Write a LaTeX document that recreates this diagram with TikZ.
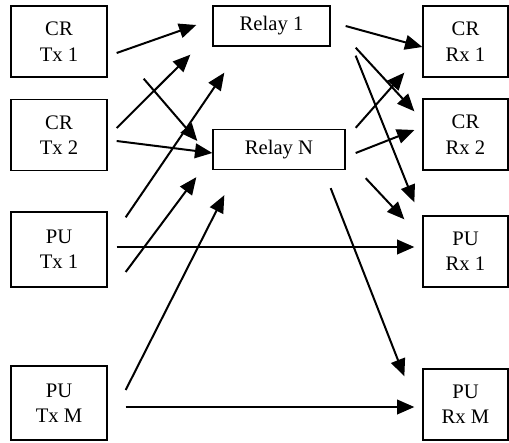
\documentclass[tikz,border=0pt]{standalone}
\usepackage{fontspec}
\setmainfont{Liberation Serif}
\usetikzlibrary{arrows.meta, calc, positioning}

\begin{document}
\begin{tikzpicture}[x=0.75pt, y=-0.75pt, >={Triangle[length=13pt, width=11pt]}, align=center, font=\fontsize{15.5}{19}\selectfont]

	\tikzset{
		unit/.style={draw, line width=1pt, inner sep=0pt, minimum width=72pt, minimum height=53.25pt},
		relay/.style={draw, line width=1pt, inner sep=0pt, minimum height=30pt},
		rx/.style={unit, minimum width=63.75pt},
		link/.style={->, line width=1.5pt}
	}

	\useasboundingbox (0, 0) rectangle (509, 442);

	% transmitters
	\node[unit]		(CRTx1)	at	(59, 41.5)	{CR \\ Tx 1};
	\node[unit]		(CRTx2)	at	(59, 135)	{CR \\ Tx 2};
	\node[unit, minimum height=56.25pt]	(PUTx1)	at	(59, 249.5)	{PU \\ Tx 1};
	\node[unit, minimum height=55.5pt]	(PUTxM)	at	(59, 403)	{PU \\ Tx M};

	% relays
	\node[relay, minimum width=87.75pt]	(R1)	at	(271.5, 26)	{Relay 1};
	\node[relay, minimum width=99pt]	(RN)	at	(279, 149.5)	{Relay N};

	% receivers
	\node[rx]		(CRRx1)	at	(465.5, 41.5)	{CR \\ Rx 1};
	\node[rx]		(CRRx2)	at	(465.5, 134.5)	{CR \\ Rx 2};
	\node[rx]		(PURx1)	at	(465.5, 251.5)	{PU \\ Rx 1};
	\node[rx]		(PURxM)	at	(465.5, 404.5)	{PU \\ Rx M};

	\path[link]	($(CRTx1.east)+(9,11.5)$)			edge	($(R1.west)+(-16,-1)$)
			($(CRTx2.east)+(9,-7)$)				edge	($(R1.south west)+(-22,8)$)
			($(CRTx1.south east)+(36,1)$)		edge	($(RN.west)+(-15,-8.5)$)
			($(CRTx2.east)+(9,6)$)				edge	($(RN.west)+(0,3.5)$)
			($(PUTx1.north east)+(18,6)$)		edge	($(R1.south west)+(12,26)$)
			($(PUTx1.east)+(18,22.5)$)			edge	($(RN.south west)+(-16,7)$)
			($(PUTxM.east)+(18,-13)$)			edge	($(RN.south west)+(12,25)$)
			($(PUTx1.east)+(9,-2.5)$)			edge	($(PURx1.west)+(-8,-4.5)$)
			($(PUTxM.east)+(18,4)$)				edge	($(PURxM.west)+(-8,2.5)$);

	\path[link]	($(R1.east)+(15,0)$)				edge	($(CRRx1.west)+(0,5.5)$)
			($(R1.south east)+(25,1)$)			edge	($(CRRx2.north west)+(-8,13)$)
			($(R1.south east)+(25,9)$)			edge	($(PURx1.north west)+(-8,-13)$)
			($(RN.north east)+(10,-1)$)			edge	($(CRRx1.south west)+(-18,-5)$)
			($(RN.east)+(10,3.5)$)				edge	($(CRRx2.west)+(-8,-4.5)$)
			($(RN.south east)+(20,8)$)			edge	($(PURx1.north west)+(-18,4)$)
			($(RN.south east)+(-15,18)$)		edge	($(PURxM.north west)+(-18,8)$);

\end{tikzpicture}
\end{document}
